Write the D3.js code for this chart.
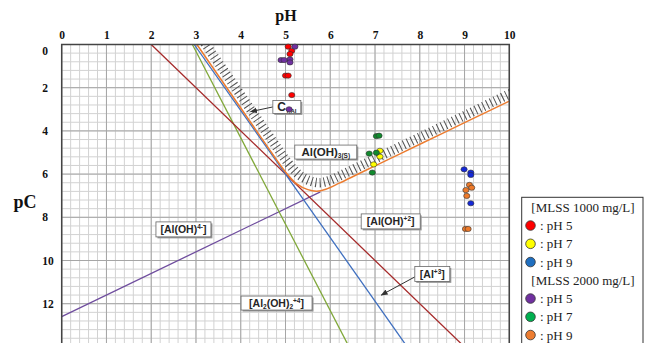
<!DOCTYPE html>
<html>
<head>
<meta charset="utf-8">
<script src="https://cdn.jsdelivr.net/npm/d3@7"></script>
<style>
  html, body { margin: 0; padding: 0; background: #fff; }
  svg { display: block; }
</style>
</head>
<body>
<svg id="chart" width="650" height="343"></svg>
<script>
// Aluminium speciation diagram: pC vs pH with measured residual Al

const pHTicks = [0, 1, 2, 3, 4, 5, 6, 7, 8, 9, 10];
const pCTicks = [0, 2, 4, 6, 8, 10, 12, 14];

// Species lines [pH, pC]
const alOH2Line   = [[2.0, 0], [9.0, 14]];          // [Al(OH)+2]
const al3Line     = [[2.96, 0], [7.72, 14]];        // [Al+3]
const al2OH2Line  = [[2.92, 0], [6.42, 14]];        // [Al2(OH)2+4]
const alOH4Line   = [[0, 12.6], [5.78, 6.82]];      // [Al(OH)4-]
// Total soluble aluminium C_T,Al (solubility boundary of Al(OH)3(s))
const ctAlCurve = [[3.02, 0], [4.0, 2.94], [4.6, 4.74], [5.0, 5.9], [5.25, 6.45],
                   [5.5, 6.72], [5.7, 6.79], [5.9, 6.7], [6.2, 6.42], [6.6, 6.02],
                   [7.0, 5.62], [8.0, 4.62], [9.0, 3.62], [10.0, 2.62]];

// Measured residual aluminium [pH, pC]
const mlss1000pH5 = [[5.06, 0.1], [5.14, 0.29], [5.10, 0.44], [5.0, 1.44], [5.06, 1.44], [5.14, 2.34]];
const mlss1000pH7 = [[7.11, 4.92], [7.11, 5.19], [6.97, 5.55]];
const mlss1000pH9 = [[8.99, 5.78], [9.14, 5.93], [9.14, 6.04], [9.14, 7.35]];
const mlss2000pH5 = [[5.21, 0.1], [5.10, 0.69], [5.10, 0.83], [4.9, 0.72], [4.97, 0.72], [5.08, 3.0]];
const mlss2000pH7 = [[7.03, 4.24], [7.09, 4.22], [6.87, 5.05], [7.03, 5.01], [6.94, 5.93]];
const mlss2000pH9 = [[9.11, 6.5], [9.16, 6.63], [9.03, 6.74], [9.05, 7.01], [9.02, 8.54], [9.08, 8.54]];

const legendGroups = ["[MLSS 1000 mg/L]", "[MLSS 2000 mg/L]"];
const legendLabels = [": pH 5", ": pH 7", ": pH 9"];

const svg = d3.select("#chart");
const x = d3.scaleLinear().domain([0, 10]).range([61.7, 509.3]);
const y = d3.scaleLinear().domain([0, 14]).range([44.5, 346.9]);

// plot clip
svg.append("defs").append("clipPath").attr("id", "plotClip")
  .append("rect").attr("x", x(0)).attr("y", y(0))
  .attr("width", x(10) - x(0)).attr("height", y(14) - y(0));

// grid
const grid = svg.append("g");
grid.selectAll("line.vmin").data(d3.range(0, 10.001, 0.2)).join("line")
  .attr("x1", d => x(d)).attr("x2", d => x(d)).attr("y1", y(0)).attr("y2", y(14))
  .attr("stroke", "#d2d2d2").attr("stroke-width", 1);
grid.selectAll("line.hmin").data(d3.range(0, 14.001, 0.4)).join("line")
  .attr("y1", d => y(d)).attr("y2", d => y(d)).attr("x1", x(0)).attr("x2", x(10))
  .attr("stroke", "#d2d2d2").attr("stroke-width", 1);
grid.selectAll("line.vmaj").data(pHTicks).join("line")
  .attr("x1", d => x(d)).attr("x2", d => x(d)).attr("y1", y(0)).attr("y2", y(14))
  .attr("stroke", "#a6a6a6").attr("stroke-width", 1);
grid.selectAll("line.hmaj").data(pCTicks).join("line")
  .attr("y1", d => y(d)).attr("y2", d => y(d)).attr("x1", x(0)).attr("x2", x(10))
  .attr("stroke", "#a6a6a6").attr("stroke-width", 1);

// axes
const xAxis = svg.append("g").attr("transform", `translate(0,${y(0)})`)
  .call(d3.axisTop(x).tickValues(pHTicks).tickSize(0).tickPadding(6).tickFormat(d3.format("d")));
xAxis.select(".domain").remove();
xAxis.selectAll("text").attr("font-family", "Liberation Serif, serif")
  .attr("font-weight", "bold").attr("font-size", 11.5).attr("fill", "#111");

const yAxis = svg.append("g").attr("transform", `translate(${x(0)},0)`)
  .call(d3.axisLeft(y).tickValues(pCTicks).tickSize(0).tickFormat(d3.format("d")));
yAxis.select(".domain").remove();
yAxis.selectAll("text").attr("x", -19.5).attr("text-anchor", "start")
  .attr("dy", d => d === 0 ? "0.9em" : "0.32em")
  .attr("font-family", "Liberation Serif, serif")
  .attr("font-weight", "bold").attr("font-size", 11.5).attr("fill", "#111");

svg.append("text").attr("x", 286).attr("y", 21).attr("text-anchor", "middle")
  .attr("font-family", "Liberation Serif, serif").attr("font-weight", "bold")
  .attr("font-size", 16).attr("fill", "#111").text("pH");
svg.append("text").attr("x", 25).attr("y", 208).attr("text-anchor", "middle")
  .attr("font-family", "Liberation Serif, serif").attr("font-weight", "bold")
  .attr("font-size", 18).attr("fill", "#111").text("pC");

// curves
const plot = svg.append("g").attr("clip-path", "url(#plotClip)");
const line = d3.line().x(d => x(d[0])).y(d => y(d[1]));
const smooth = d3.line().x(d => x(d[0])).y(d => y(d[1])).curve(d3.curveCatmullRom.alpha(0.5));

// hatched band along the solubility boundary
plot.append("path").datum(ctAlCurve)
  .attr("d", smooth).attr("transform", "translate(3,-8.5)")
  .attr("fill", "none").attr("stroke", "#505050").attr("stroke-width", 9.5)
  .attr("stroke-dasharray", "1 3.2");

const speciesLines = [
  { data: alOH4Line, color: "#6f4d9e" },
  { data: al2OH2Line, color: "#80a83a" },
  { data: alOH2Line, color: "#a52a2a" },
  { data: al3Line, color: "#3f6fbf" }
];
plot.selectAll("path.sp").data(speciesLines).join("path")
  .attr("d", d => line(d.data)).attr("fill", "none")
  .attr("stroke", d => d.color).attr("stroke-width", 1.3);

plot.append("path").datum(ctAlCurve).attr("d", smooth)
  .attr("fill", "none").attr("stroke", "#ec7c30").attr("stroke-width", 1.5);

// plot frame
svg.append("rect").attr("x", x(0)).attr("y", y(0))
  .attr("width", x(10) - x(0)).attr("height", y(14) - y(0))
  .attr("fill", "none").attr("stroke", "#444").attr("stroke-width", 1.5);

// annotations
svg.append("defs").append("marker").attr("id", "arrow")
  .attr("viewBox", "0 0 10 10").attr("refX", 9).attr("refY", 5)
  .attr("markerWidth", 7).attr("markerHeight", 7).attr("orient", "auto")
  .append("path").attr("d", "M0,1 L10,5 L0,9 Z").attr("fill", "#333");

const annotations = [
  { at: [5.03, 2.89], w: 28, h: 13, parts: [["C", 0, 12], ["T,Al", -1, 6]], arrowTo: [4.22, 3.11] },
  { at: [5.90, 4.98], w: 62, h: 14, parts: [["Al(OH)", 0, 11.5], ["3(S)", -1, 6.5]] },
  { at: [7.35, 8.19], w: 59, h: 15, parts: [["[Al(OH)", 0, 10.5], ["+2", 1, 6.5], ["]", 0, 10.5]] },
  { at: [2.72, 8.56], w: 55, h: 15, parts: [["[Al(OH)", 0, 10.5], ["4-", 1, 6.5], ["]", 0, 10.5]] },
  { at: [8.28, 10.62], w: 35, h: 15, parts: [["[Al", 0, 10.5], ["+3", 1, 6.5], ["]", 0, 10.5]], arrowTo: [7.14, 11.6] },
  { at: [4.80, 11.97], w: 71, h: 14, parts: [["[Al", 0, 10.5], ["2", -1, 6.5], ["(OH)", 0, 10.5], ["2", -1, 6.5], ["+4", 1, 6.5], ["]", 0, 10.5]] }
];

annotations.forEach(a => {
  const cx = x(a.at[0]), cy = y(a.at[1]);
  const g = svg.append("g");
  if (a.arrowTo) {
    g.append("line").attr("x1", cx - a.w / 2).attr("y1", cy + (a.arrowTo[1] > a.at[1] + 0.5 ? 3 : 0))
      .attr("x2", x(a.arrowTo[0])).attr("y2", y(a.arrowTo[1]))
      .attr("stroke", "#333").attr("stroke-width", 1).attr("marker-end", "url(#arrow)");
  }
  g.append("rect").attr("x", cx - a.w / 2 + 1.5).attr("y", cy - a.h / 2 + 1.5)
    .attr("width", a.w).attr("height", a.h).attr("fill", "#9a9a9a");
  g.append("rect").attr("x", cx - a.w / 2).attr("y", cy - a.h / 2)
    .attr("width", a.w).attr("height", a.h).attr("fill", "#fff")
    .attr("stroke", "#666").attr("stroke-width", 0.8);
  const t = g.append("text").attr("x", cx).attr("y", cy + 4).attr("text-anchor", "middle")
    .attr("font-family", "Liberation Sans, Arial, sans-serif").attr("font-weight", "bold")
    .attr("fill", "#262626");
  let shift = 0;
  a.parts.forEach(p => {
    const target = p[1] === 1 ? -4 : p[1] === -1 ? 2 : 0;
    t.append("tspan").attr("dy", target - shift).attr("font-size", p[2]).text(p[0]);
    shift = target;
  });
});

// measured points
const series = [
  { data: mlss1000pH5, fill: "#ff0000" },
  { data: mlss1000pH7, fill: "#ffff00" },
  { data: mlss1000pH9, fill: "#1428d8" },
  { data: mlss2000pH5, fill: "#7030a0" },
  { data: mlss2000pH7, fill: "#118a2e" },
  { data: mlss2000pH9, fill: "#ee7a2a" }
];
series.forEach(s => {
  svg.append("g").selectAll("ellipse").data(s.data).join("ellipse")
    .attr("cx", d => x(d[0])).attr("cy", d => y(d[1]))
    .attr("rx", 3.1).attr("ry", 2.6)
    .attr("fill", s.fill).attr("stroke", "#333").attr("stroke-width", 0.6);
});

// legend
const legendFill = ["#ff0000", "#ffff00", "#1f6fc0", "#7030a0", "#00b050", "#ed7d31"];
const lg = svg.append("g");
lg.append("rect").attr("x", 521.7).attr("y", 197.3).attr("width", 121.3).attr("height", 170)
  .attr("fill", "#fff").attr("stroke", "#333").attr("stroke-width", 1);
const rowH = 18.25;
legendGroups.forEach((gname, gi) => {
  const top = 207.3 + gi * 4 * rowH;
  lg.append("text").attr("x", 583).attr("y", top + 4.5).attr("text-anchor", "middle")
    .attr("font-family", "Liberation Serif, serif").attr("font-size", 13)
    .attr("fill", "#222").text(gname);
  legendLabels.forEach((lab, li) => {
    const cy = top + (li + 1) * rowH;
    lg.append("circle").attr("cx", 530.5).attr("cy", cy).attr("r", 4.8)
      .attr("fill", legendFill[gi * 3 + li]).attr("stroke", "#333").attr("stroke-width", 0.8);
    lg.append("text").attr("x", 540).attr("y", cy + 4.5)
      .attr("font-family", "Liberation Serif, serif").attr("font-size", 13)
      .attr("fill", "#222").text(lab);
  });
});
</script>
</body>
</html>
